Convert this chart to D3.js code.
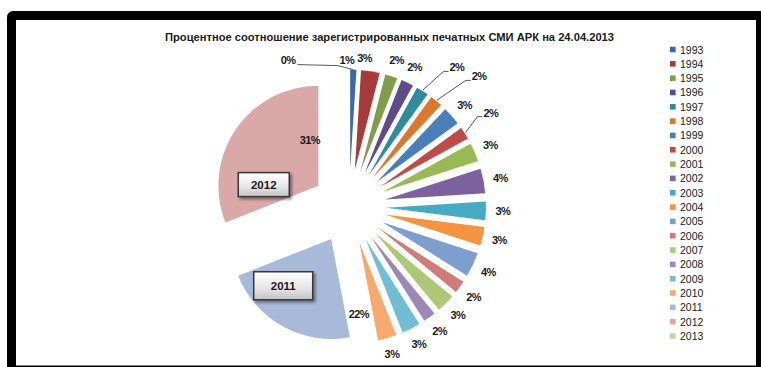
<!DOCTYPE html>
<html>
<head>
<meta charset="utf-8">
<script src="https://cdn.jsdelivr.net/npm/d3@7"></script>
<style>
  body { margin: 0; background: #fff; }
  svg { display: block; }
</style>
</head>
<body>
<svg id="chart" width="761" height="367"></svg>
<script>
// Registered print media of the Autonomous Republic of Crimea, share by year of registration (%)
const chartTitle = "Процентное соотношение зарегистрированных печатных СМИ АРК на 24.04.2013";
const years = ["1993","1994","1995","1996","1997","1998","1999","2000","2001","2002","2003",
               "2004","2005","2006","2007","2008","2009","2010","2011","2012","2013"];
const shares = [1, 3, 2, 2, 2, 2, 3, 2, 3, 4, 3, 3, 4, 2, 3, 2, 3, 3, 22, 31, 0];
const palette = ["#3c69a6","#a63b39","#7f9e4a","#5f4a8a","#2f8b9d","#dc772e",
                 "#4a7ebb","#be4b48","#98b954","#7d60a0","#46aac5","#f69340",
                 "#7e9ecf","#cf7b79","#adc978","#9a88b5","#71bed3","#f8a96e",
                 "#a8bad9","#d9a9a8","#c4d8a2"];
// Years that also get a boxed callout on the pie
const calloutYears = ["2012", "2011"];

// Geometry of the exploded pie
const cx = 349, cy = 206.5, R = 100, explode = 37, labelR = 154;
const deg = Math.PI / 180;

// Labels that sit away from the default outside position (angle shift in degrees, radius)
const labelLayout = {
  "1993": { da: -2.6, r: 147 },
  "1994": { da: -3, r: 149 },
  "1997": { da: 5.4, r: 176, leader: 5 },
  "1998": { da: 5.4, r: 184, leader: 5 },
  "2000": { da: -1.1, r: 170, leader: 5 },
  "2013": { da: -22.5, r: 159, leader: 40 },
  "2011": { da: -34.1, r: 107.5 },
  "2012": { da: 25.2, r: 77 }
};
const calloutLayout = {
  "2012": { da: -19.8, r: 88, w: 51, h: 24 },
  "2011": { da: 10.9, r: 103, w: 59, h: 28 }
};

const svg = d3.select("#chart");
const defs = svg.append("defs");

// Frame of the chart object
svg.append("rect").attr("x", 7).attr("y", 11).attr("width", 760).attr("height", 370)
  .attr("rx", 6).attr("fill", "#000");
svg.append("rect").attr("x", 16).attr("y", 20).attr("width", 740).attr("height", 345.5)
  .attr("fill", "#fff");

// Title
svg.append("text")
  .attr("x", 389.5).attr("y", 41)
  .attr("text-anchor", "middle")
  .attr("textLength", 449).attr("lengthAdjust", "spacingAndGlyphs")
  .style("font", "bold 10.5px 'Liberation Sans', Arial, sans-serif")
  .attr("fill", "#1a1a1a")
  .text(chartTitle);

const data = years.map((y, i) => ({ year: y, value: shares[i], color: palette[i] }));
const pie = d3.pie().sort(null).value(d => d.value).startAngle(0).endAngle(2 * Math.PI);
const arcs = pie(data);
const arc = d3.arc().innerRadius(0).outerRadius(R);
const mid = a => (a.startAngle + a.endAngle) / 2;
const polar = (ang, r) => [cx + r * Math.sin(ang), cy - r * Math.cos(ang)];

// Slices, each pushed out along its bisector
const g = svg.append("g").attr("transform", `translate(${cx},${cy})`);
g.selectAll("path.slice")
  .data(arcs.filter(a => a.value > 0))
  .join("path")
  .attr("class", "slice")
  .attr("d", arc)
  .attr("fill", a => a.data.color)
  .attr("transform", a => {
    const m = mid(a);
    return `translate(${explode * Math.sin(m)},${-explode * Math.cos(m)})`;
  });

// Percentage labels
const labelFont = "bold 11px 'Liberation Sans', Arial, sans-serif";
const labels = svg.append("g");
const leaders = svg.append("g").attr("fill", "none").attr("stroke", "#5a5a5a").attr("stroke-width", 1);
arcs.forEach(a => {
  const lay = labelLayout[a.data.year] || { da: 0, r: labelR };
  const m = mid(a);
  const [lx, ly] = polar(m + lay.da * deg, lay.r);
  const t = labels.append("text")
    .attr("x", lx).attr("y", ly)
    .attr("text-anchor", "middle").attr("dominant-baseline", "central")
    .style("font", labelFont).style("letter-spacing", "-0.6px")
    .attr("fill", "#1a1a1a")
    .text(Math.round(a.value) + "%");
  if (lay.leader) {
    const w = t.node().getComputedTextLength();
    const [ex, ey] = polar(m, R + explode + 1);
    let pts;
    if (lx > ex) {
      const sx = lx - w / 2 - 1, sy = ly + 4;
      pts = [[sx, sy], [sx - lay.leader, sy], [ex, ey]];
    } else {
      const sx = lx + w / 2 + 2, sy = ly + 5;
      pts = [[sx, sy], [sx + lay.leader, sy + 1], [ex + 4, ey + 1]];
    }
    leaders.append("path").attr("d", d3.line()(pts));
  }
});

// Boxed year callouts
const grad = defs.append("linearGradient").attr("id", "boxFill")
  .attr("x1", 0).attr("y1", 0).attr("x2", 0).attr("y2", 1);
grad.append("stop").attr("offset", "0%").attr("stop-color", "#ffffff");
grad.append("stop").attr("offset", "55%").attr("stop-color", "#e8e8e8");
grad.append("stop").attr("offset", "100%").attr("stop-color", "#c4c4c4");
const shadow = defs.append("filter").attr("id", "boxShadow")
  .attr("x", "-20%").attr("y", "-20%").attr("width", "150%").attr("height", "160%");
shadow.append("feDropShadow").attr("dx", 2).attr("dy", 2).attr("stdDeviation", 1.5)
  .attr("flood-color", "#000").attr("flood-opacity", 0.45);

calloutYears.forEach(y => {
  const a = arcs.find(d => d.data.year === y);
  const lay = calloutLayout[y];
  const [bx, by] = polar(mid(a) + lay.da * deg, lay.r);
  const box = svg.append("g").attr("transform", `translate(${bx},${by})`);
  box.append("rect")
    .attr("x", -lay.w / 2).attr("y", -lay.h / 2)
    .attr("width", lay.w).attr("height", lay.h)
    .attr("fill", "url(#boxFill)").attr("stroke", "#383838").attr("stroke-width", 1.5)
    .attr("filter", "url(#boxShadow)");
  box.append("text")
    .attr("text-anchor", "middle").attr("dominant-baseline", "central")
    .style("font", "bold 11.5px 'Liberation Sans', Arial, sans-serif")
    .attr("fill", "#1a1a1a")
    .text(y);
});

// Legend
const legendY = d3.scalePoint().domain(years).range([49.5, 336]);
const legend = svg.append("g");
years.forEach((y, i) => {
  legend.append("rect")
    .attr("x", 670).attr("y", legendY(y) - 2.8)
    .attr("width", 5.6).attr("height", 5.6)
    .attr("fill", palette[i]);
  legend.append("text")
    .attr("x", 680).attr("y", legendY(y))
    .attr("dominant-baseline", "central")
    .style("font", "10.5px 'Liberation Sans', Arial, sans-serif")
    .attr("fill", "#1a1a1a")
    .text(y);
});
</script>
</body>
</html>
